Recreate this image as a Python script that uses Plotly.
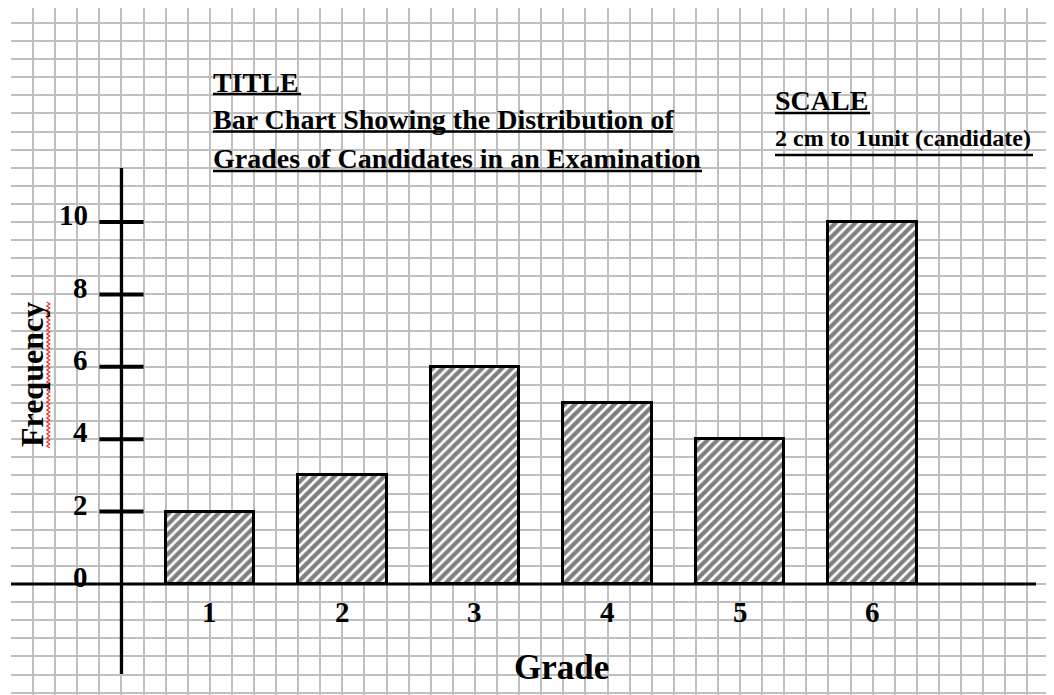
import plotly.graph_objects as go

# ---- data ----
grades = [1, 2, 3, 4, 5, 6]
frequency = [2, 3, 6, 5, 4, 10]
y_tick_values = [2, 4, 6, 8, 10]
y_label_values = [0, 2, 4, 6, 8, 10]
x_label_text = ["1", "2", "3", "4", "5", "6"]

title_lines = ["TITLE",
               "Bar Chart Showing the Distribution of",
               "Grades of Candidates in an Examination"]
scale_lines = ["SCALE", "2 cm to 1unit (candidate)"]

# ---- page geometry (page pixels; the html body adds an 8px margin) ----
OFF = 8
PAGE_W, PAGE_H = 1054, 695
PLOT_L, PLOT_T = 11, 8
UX = 132.56          # pixels per grade unit
UY = 36.2            # pixels per frequency unit
Y0 = 584.0           # pixel row of frequency 0
X_LEFT = -0.5        # grade value at the left edge of the grid

def px2x(px):
    return X_LEFT + (px - PLOT_L) / UX

def px2y(py):
    return (Y0 - py) / UY

FONT = "Liberation Serif, Times New Roman, serif"
GRID = "#bfbfbf"

fig = go.Figure()

# bars
fig.add_trace(go.Bar(
    x=grades, y=frequency, width=2 / 3,
    marker=dict(color="white",
                line=dict(color="black", width=3),
                pattern=dict(shape="/", fgcolor="black", bgcolor="white",
                             size=7, solidity=0.62)),
    hoverinfo="skip", showlegend=False))

# axes lines
fig.add_trace(go.Scatter(x=[X_LEFT, px2x(1036)], y=[0, 0], mode="lines",
                         line=dict(color="black", width=3),
                         hoverinfo="skip", showlegend=False))
fig.add_trace(go.Scatter(x=[1 / 3, 1 / 3], y=[px2y(168), px2y(674)], mode="lines",
                         line=dict(color="black", width=3.3),
                         hoverinfo="skip", showlegend=False))

# y tick marks
tx, ty = [], []
for v in y_tick_values:
    tx += [1 / 6, 1 / 2, None]
    ty += [v, v, None]
fig.add_trace(go.Scatter(x=tx, y=ty, mode="lines",
                         line=dict(color="black", width=4),
                         hoverinfo="skip", showlegend=False))

annotations = []
bold = dict(family=FONT, color="black", weight="bold")
# y tick labels
for v in y_label_values:
    annotations.append(dict(x=px2x(90), y=v + 0.19, xref="x", yref="y",
                            text=str(v), showarrow=False, xanchor="right",
                            yanchor="middle", font=dict(size=29, **bold)))
# x tick labels
for g, t in zip(grades, x_label_text):
    annotations.append(dict(x=g, y=px2y(611.5), xref="x", yref="y",
                            text=t, showarrow=False, xanchor="center",
                            yanchor="middle", font=dict(size=29, **bold)))
# axis titles
annotations.append(dict(x=px2x(561), y=px2y(667), xref="x", yref="y",
                        text="Grade", showarrow=False, xanchor="center",
                        yanchor="middle", font=dict(size=35, **bold)))
annotations.append(dict(x=px2x(32), y=px2y(375), xref="x", yref="y",
                        text="Frequency", showarrow=False, textangle=-90,
                        xanchor="center", yanchor="middle",
                        font=dict(size=32, **bold)))

shapes = []
# title block (text + thick underline)
title_centers = [82, 119, 158]
title_under = [(301, 94), (673, 131.5), (702, 171)]
for txt, cy, (xr, uy) in zip(title_lines, title_centers, title_under):
    annotations.append(dict(x=px2x(211), y=px2y(cy), xref="x", yref="y",
                            text=txt, showarrow=False,
                            xanchor="left", yanchor="middle",
                            font=dict(size=28, **bold)))
    shapes.append(dict(type="line", xref="x", yref="y",
                       x0=px2x(213), x1=px2x(xr), y0=px2y(uy), y1=px2y(uy),
                       line=dict(color="black", width=2.6)))
annotations.append(dict(x=px2x(773), y=px2y(100), xref="x", yref="y",
                        text=scale_lines[0], showarrow=False,
                        xanchor="left", yanchor="middle",
                        font=dict(size=28, **bold)))
shapes.append(dict(type="line", xref="x", yref="y",
                   x0=px2x(775), x1=px2x(870), y0=px2y(113), y1=px2y(113),
                   line=dict(color="black", width=2.6)))
annotations.append(dict(x=px2x(773), y=px2y(138), xref="x", yref="y",
                        text=scale_lines[1], showarrow=False,
                        xanchor="left", yanchor="middle",
                        font=dict(size=24, **bold)))
shapes.append(dict(type="line", xref="x", yref="y",
                   x0=px2x(775), x1=px2x(1033), y0=px2y(155), y1=px2y(155),
                   line=dict(color="black", width=2.6)))

# red spell-check squiggle next to "Frequency"
pts = []
py = 302.0
k = 0
while py <= 448:
    pts.append((48.3 + (1.5 if k % 2 else -1.5), py))
    py += 2.0
    k += 1
path = "M " + " L ".join(f"{px2x(a):.5f},{px2y(b):.5f}" for a, b in pts)
shapes.append(dict(type="path", path=path, xref="x", yref="y",
                   line=dict(color="#f03030", width=1.2)))

# graph-paper grid positions (every 1/6 grade, every 0.5 frequency)
x_grid = [X_LEFT + k / 6 for k in range(0, 48)]
y_grid = [k * 0.5 for k in range(-6, 32)]

fig.update_layout(
    width=PAGE_W - OFF, height=PAGE_H - OFF,
    margin=dict(l=PLOT_L - OFF, r=0, t=PLOT_T - OFF, b=0, pad=0),
    paper_bgcolor="white", plot_bgcolor="white",
    showlegend=False,
    hovermode=False,
    annotations=annotations,
    shapes=shapes,
    bargap=0,
    xaxis=dict(range=[px2x(PLOT_L), px2x(PAGE_W)], tickmode="array",
               tickvals=x_grid, showgrid=True, gridcolor=GRID, gridwidth=1.5,
               showticklabels=False, ticks="", zeroline=False,
               showline=False, fixedrange=True),
    yaxis=dict(range=[px2y(PAGE_H), px2y(PLOT_T)], tickmode="array",
               tickvals=y_grid, showgrid=True, gridcolor=GRID, gridwidth=1.5,
               showticklabels=False, ticks="", zeroline=False,
               showline=False, fixedrange=True),
)

fig.write_html("out.html")
